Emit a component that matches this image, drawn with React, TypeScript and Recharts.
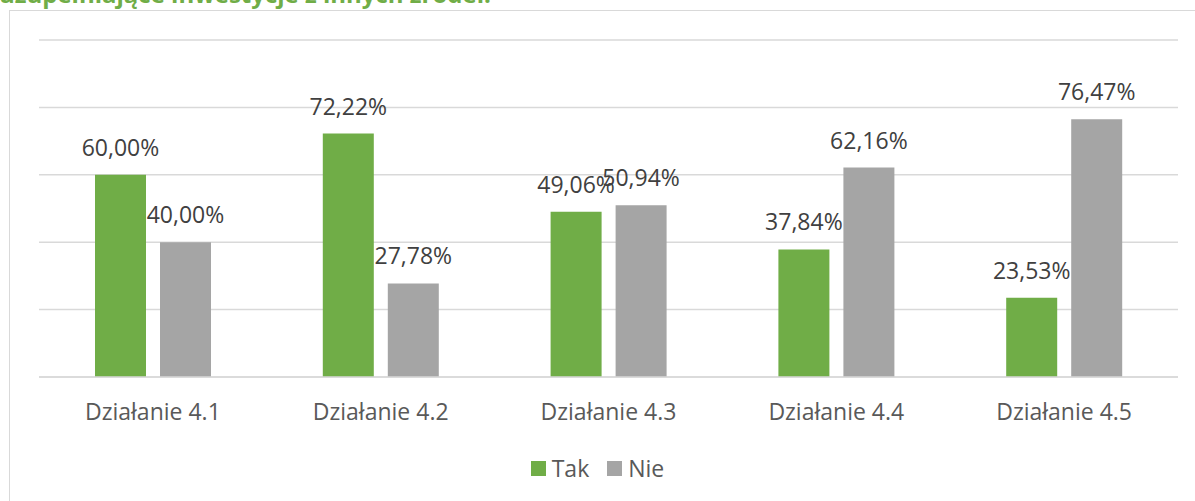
import React from "react";
import { BarChart, Bar, XAxis, YAxis, CartesianGrid, LabelList } from "recharts";

const categories = ["Działanie 4.1", "Działanie 4.2", "Działanie 4.3", "Działanie 4.4", "Działanie 4.5"];
const takValues = [60.0, 72.22, 49.06, 37.84, 23.53];
const nieValues = [40.0, 27.78, 50.94, 62.16, 76.47];
const yTicks = [0, 20, 40, 60, 80, 100];

const SERIES = [
  { key: "tak", name: "Tak", color: "#70AD47" },
  { key: "nie", name: "Nie", color: "#A5A5A5" },
];

const data = categories.map((name, i) => ({ name, tak: takValues[i], nie: nieValues[i] }));

const FONT = "'Open Sans', 'DejaVu Sans', sans-serif";

const fmt = (v: any) => `${Number(v).toFixed(2).replace(".", ",")}%`;

export default function App() {
  return (
    <div
      style={{
        position: "fixed",
        left: 0,
        top: 0,
        width: 1195,
        height: 501,
        overflow: "hidden",
        background: "#fff",
        fontFamily: FONT,
      }}
    >
      {/* title of the chart, cut at the top like in the source screenshot */}
      <div
        style={{
          position: "absolute",
          left: -1,
          top: -23,
          fontSize: 24,
          fontWeight: 700,
          color: "#70AD47",
          whiteSpace: "nowrap",
        }}
      >
        uzupełniające inwestycje z innych źródeł:
      </div>
      <div
        style={{
          position: "absolute",
          left: 9,
          top: 10,
          width: 1300,
          height: 600,
          border: "1px solid #d9d9d9",
          boxSizing: "border-box",
        }}
      />
      <div style={{ position: "absolute", left: 0, top: 0 }}>
        <BarChart
          width={1195}
          height={501}
          data={data}
          margin={{ top: 40, right: 17, left: 39, bottom: 94 }}
          barSize={51}
          barGap={14}
        >
          <CartesianGrid vertical={false} stroke="#d9d9d9" strokeWidth={1.5} />
          <YAxis hide domain={[0, 100]} ticks={yTicks} />
          <XAxis
            dataKey="name"
            height={30}
            tickLine={false}
            axisLine={{ stroke: "#d9d9d9", strokeWidth: 1.5 }}
            tickMargin={21}
            tick={{ fontSize: 23, fill: "#595959", fontFamily: FONT }}
          />
          {SERIES.map((s) => (
            <Bar key={s.key} dataKey={s.key} name={s.name} fill={s.color} isAnimationActive={false}>
              <LabelList
                dataKey={s.key}
                position="top"
                offset={19}
                formatter={fmt}
                style={{ fontSize: 23, fill: "#404040", fontFamily: FONT }}
              />
            </Bar>
          ))}
        </BarChart>
      </div>
      <div
        style={{
          position: "absolute",
          left: 0,
          width: 1195,
          top: 452,
          display: "flex",
          justifyContent: "center",
          gap: 18,
          fontSize: 23,
          color: "#595959",
        }}
      >
        {SERIES.map((s) => (
          <div key={s.key} style={{ display: "flex", alignItems: "center", gap: 6 }}>
            <span style={{ width: 15, height: 15, background: s.color, display: "inline-block" }} />
            <span>{s.name}</span>
          </div>
        ))}
      </div>
    </div>
  );
}
